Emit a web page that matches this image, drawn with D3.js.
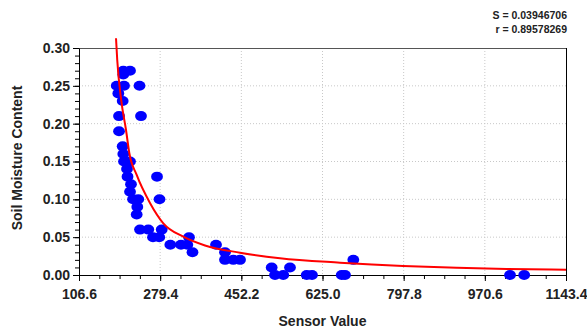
<!DOCTYPE html>
<html>
<head>
<meta charset="utf-8">
<script src="https://cdn.jsdelivr.net/npm/d3@7"></script>
<style>
  body { margin: 0; background: #fff; }
  text { font-family: "Liberation Sans", Arial, sans-serif; font-weight: bold; fill: #222; }
</style>
</head>
<body>
<div id="chart"></div>
<script>
// measured points (sensor value, soil moisture)
const sensorValues = [200.9, 215.2, 200.9, 186.9, 202.4, 235.4, 190.3, 199.6, 191.8, 238.6,
  191.8, 199.6, 200.9, 202.4, 215.2, 208.8, 209.9, 272.7, 217.3, 215.2,
  221.6, 232.8, 278.0, 230.7, 229.4, 236.5, 254.1, 282.7, 264.1, 277.5,
  301.0, 323.7, 337.2, 340.8, 348.2, 398.3, 417.4, 417.4, 435.1, 449.4,
  516.8, 523.9, 541.5, 555.8, 591.4, 602.6, 665.9, 672.9, 690.6, 1024.2, 1054.4];
const moisture = [0.27, 0.27, 0.265, 0.25, 0.25, 0.25, 0.24, 0.23, 0.21, 0.21,
  0.19, 0.17, 0.16, 0.15, 0.15, 0.14, 0.13, 0.13, 0.12, 0.11,
  0.10, 0.10, 0.10, 0.09, 0.08, 0.06, 0.06, 0.06, 0.05, 0.05,
  0.04, 0.04, 0.04, 0.05, 0.03, 0.04, 0.03, 0.02, 0.02, 0.02,
  0.01, 0.00, 0.00, 0.01, 0.00, 0.00, 0.00, 0.00, 0.02, 0.00, 0.00];

// fitted curve
const fitX = [185.4, 188.0, 196.4, 206.7, 213.7, 229.4, 257.7, 286.1, 328.6, 374.8,
  449.4, 534.5, 662.2, 796.4, 910.7, 1017, 1143.4];
const fitY = [0.3128, 0.2841, 0.2313, 0.1916, 0.1612, 0.1322, 0.0952, 0.0683, 0.0506, 0.0390,
  0.0295, 0.0221, 0.0163, 0.0119, 0.0096, 0.0079, 0.0070];

const xTicks = [106.6, 279.4, 452.2, 625.0, 797.8, 970.6, 1143.4];
const yTicks = [0.00, 0.05, 0.10, 0.15, 0.20, 0.25, 0.30];
const statLines = ["S = 0.03946706", "r = 0.89578269"];

const svgW = 587, svgH = 329;
const margin = { top: 48, right: 21, bottom: 54, left: 79 },
  width = svgW - margin.left - margin.right,
  height = svgH - margin.top - margin.bottom;

const x = d3.scaleLinear().domain([106.6, 1143.4]).range([0, width]);
const y = d3.scaleLinear().domain([0, 0.30]).range([height, 0]);

const root = d3.select("#chart").append("svg")
  .attr("width", svgW)
  .attr("height", svgH);
const svg = root.append("g")
  .attr("transform", "translate(" + margin.left + "," + margin.top + ")");

// grid
svg.selectAll(".vgrid").data(xTicks.slice(1, -1)).enter().append("line")
  .attr("x1", d => x(d)).attr("x2", d => x(d))
  .attr("y1", 0).attr("y2", height)
  .attr("stroke", "#c8c8c8").attr("stroke-dasharray", "1,2");
svg.selectAll(".hgrid").data(yTicks.slice(1, -1)).enter().append("line")
  .attr("x1", 0).attr("x2", width)
  .attr("y1", d => y(d)).attr("y2", d => y(d))
  .attr("stroke", "#c8c8c8").attr("stroke-dasharray", "1,2");

// frame top / right
svg.append("line").attr("x1", 0).attr("x2", width).attr("y1", 0.5).attr("y2", 0.5)
  .attr("stroke", "#555");
svg.append("line").attr("x1", width + 0.5).attr("x2", width + 0.5).attr("y1", 0).attr("y2", height)
  .attr("stroke", "#000");

// minor ticks
const xMinor = d3.range(0, 25).map(i => 106.6 + i * 43.2);
const yMinor = d3.range(0, 31).map(i => i * 0.01);
svg.append("g")
  .attr("transform", "translate(0," + height + ")")
  .call(d3.axisBottom(x).tickValues(xMinor).tickSize(4).tickFormat(""))
  .call(g => g.select(".domain").remove());
svg.append("g")
  .call(d3.axisLeft(y).tickValues(yMinor).tickSize(4).tickFormat(""))
  .call(g => g.select(".domain").remove());

// main axes
svg.append("g")
  .attr("class", "axis axis-x")
  .attr("transform", "translate(0," + height + ")")
  .call(d3.axisBottom(x).tickValues(xTicks).tickSize(6).tickSizeOuter(0).tickFormat(d3.format(".1f")))
  .call(g => g.selectAll("text").attr("dy", "1.05em").style("font-size", "14px")
    .style("font-family", "Liberation Sans, Arial, sans-serif").style("font-weight", "bold").attr("fill", "#1a1a1a"));
svg.append("g")
  .attr("class", "axis axis-y")
  .call(d3.axisLeft(y).tickValues(yTicks).tickSize(6).tickSizeOuter(0).tickFormat(d3.format(".2f")))
  .call(g => g.selectAll("text").attr("x", -9).style("font-size", "14px")
    .style("font-family", "Liberation Sans, Arial, sans-serif").style("font-weight", "bold").attr("fill", "#1a1a1a"));
svg.selectAll(".domain").attr("stroke", "#000");

// points
svg.selectAll(".pt")
  .data(sensorValues.map((v, i) => [v, moisture[i]]))
  .enter().append("ellipse")
  .attr("class", "pt")
  .attr("cx", d => x(d[0]))
  .attr("cy", d => y(d[1]))
  .attr("rx", 5.9)
  .attr("ry", 5)
  .attr("fill", "#0000ff");

// fit curve
const fitLine = d3.line()
  .x(d => x(d[0]))
  .y(d => y(d[1]))
  .curve(d3.curveMonotoneX);
svg.append("path")
  .datum(fitX.map((v, i) => [v, fitY[i]]))
  .attr("d", fitLine)
  .attr("fill", "none")
  .attr("stroke", "#ff0000")
  .attr("stroke-width", 2);

// axis titles
root.append("text")
  .attr("x", margin.left + width / 2)
  .attr("y", 326)
  .attr("text-anchor", "middle")
  .style("font-size", "14px")
  .text("Sensor Value");
root.append("text")
  .attr("transform", "translate(22,158) rotate(-90)")
  .attr("text-anchor", "middle")
  .style("font-size", "14px")
  .text("Soil Moisture Content");

// stats
root.selectAll(".stat").data(statLines).enter().append("text")
  .attr("x", 567)
  .attr("y", (d, i) => 19 + i * 13.5)
  .attr("text-anchor", "end")
  .style("font-size", "10.5px")
  .text(d => d);
</script>
</body>
</html>
